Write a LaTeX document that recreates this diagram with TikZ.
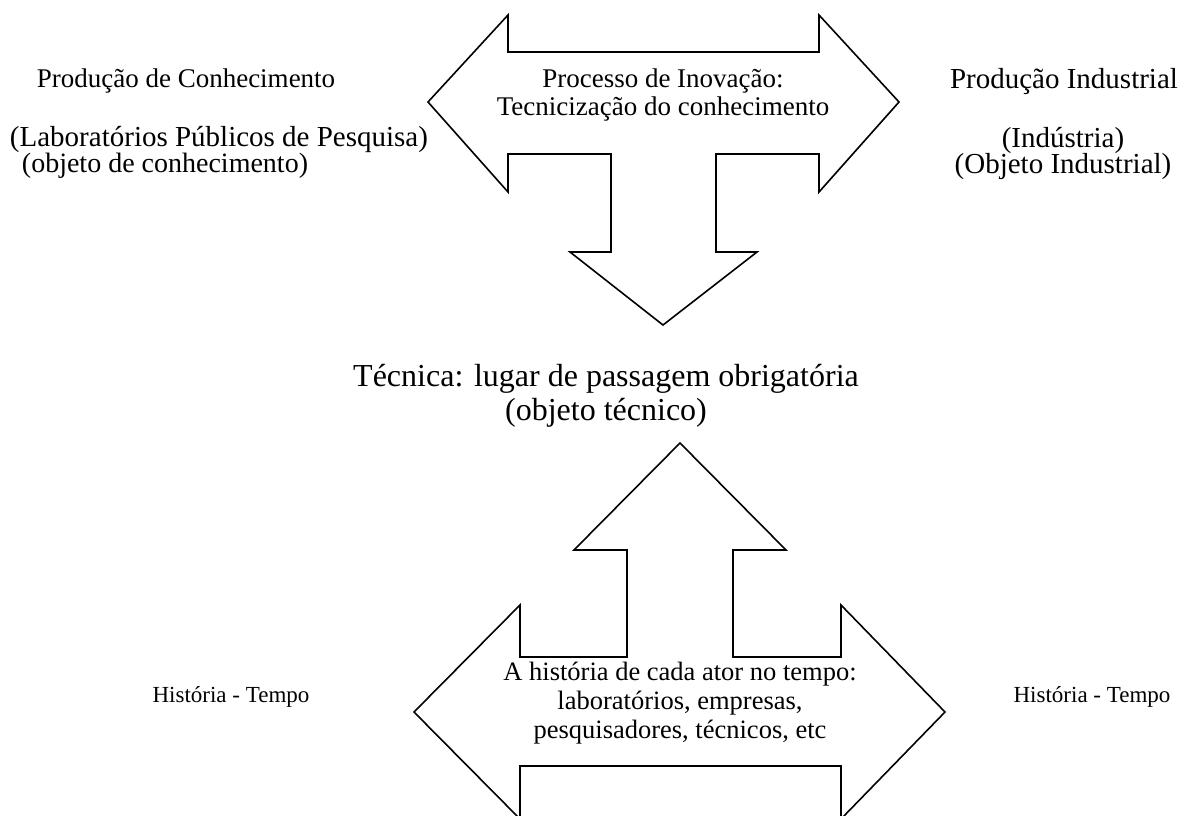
\documentclass[tikz,border=0pt]{standalone}
\usepackage{fontspec}
\setmainfont{Liberation Serif}
\begin{document}
\begin{tikzpicture}[x=1pt, y=-1pt, line width=1.6pt,
    txt/.style={inner sep=0pt, align=center, font=\fontsize{27}{28}\selectfont},
    sidetxt/.style={inner sep=0pt, align=center, font=\fontsize{29}{30}\selectfont},
    bigtxt/.style={inner sep=0pt, align=center, font=\fontsize{32}{34}\selectfont},
    smalltxt/.style={inner sep=0pt, align=center, font=\fontsize{23}{25}\selectfont}]
  \useasboundingbox (0,0) rectangle (1200,815);
  % Upper arrow: knowledge <-> industry, down to technique
  \draw (428,102) -- (508,15) -- (508,52) -- (819,52) -- (819,15) -- (899,102)
    -- (819,192) -- (819,154) -- (716,154) -- (716,252) -- (757,252) -- (663,325)
    -- (570,252) -- (611,252) -- (611,154) -- (508,154) -- (508,192) -- cycle;
  % Lower arrow: history, up to technique
  \draw (680,443) -- (786,550) -- (733,550) -- (733,657) -- (841,657) -- (841,605)
    -- (945,712) -- (841,819) -- (841,766) -- (520,766) -- (520,819) -- (414,712)
    -- (520,605) -- (520,657) -- (627,657) -- (627,550) -- (574,550) -- cycle;
  % Labels
  \node[txt] (prodcon) at (186,81) {Produção de Conhecimento};
  \node[sidetxt] (labpub) at (219,139) {(Laboratórios Públicos de Pesquisa)};
  \node[txt, font=\fontsize{28}{29}\selectfont] (objcon) at (165,166) {(objeto de conhecimento)};
  \node[txt] (inov) at (663,95) {Processo de Inovação:\\Tecnicização do conhecimento};
  \node[sidetxt] (prodind) at (1064,82) {Produção Industrial};
  \node[sidetxt] (industria) at (1063,140) {(Indústria)};
  \node[sidetxt] (objind) at (1063,167) {(Objeto Industrial)};
  \node[bigtxt] (tecnica) at (606,396) {Técnica: lugar de passagem obrigatória\\(objeto técnico)};
  \node[txt, font=\fontsize{26.5}{29}\selectfont] (ator) at (680,703) {A história de cada ator no tempo:\\laboratórios, empresas,\\pesquisadores, técnicos, etc};
  \node[smalltxt] (histesq) at (231,697) {História - Tempo};
  \node[smalltxt] (histdir) at (1092,697) {História - Tempo};
\end{tikzpicture}
\end{document}
